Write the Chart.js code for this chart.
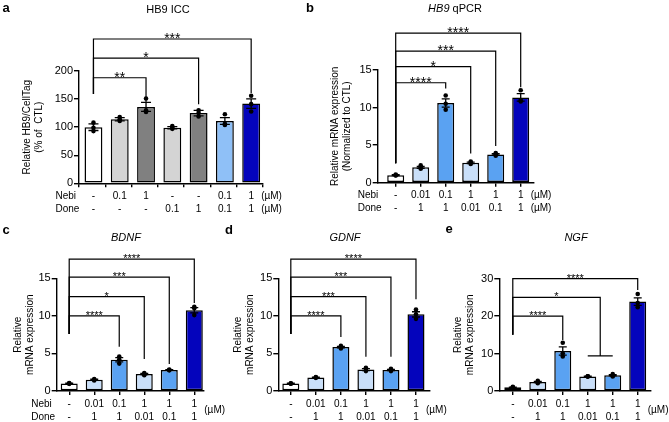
<!DOCTYPE html>
<html>
<head>
<meta charset="utf-8">
<script src="https://cdn.jsdelivr.net/npm/chart.js@4.4.1/dist/chart.umd.min.js"></script>
<style>
  body { margin: 0; background: #fff; }
  #figure { position: relative; width: 669px; height: 422px; overflow: hidden; background: #fff; }
  #figure canvas { position: absolute; }
</style>
</head>
<body>
<div id="figure">
  <canvas id="chart-a"></canvas>
  <canvas id="chart-b"></canvas>
  <canvas id="chart-c"></canvas>
  <canvas id="chart-d"></canvas>
  <canvas id="chart-e"></canvas>
</div>
<script>
// --- Data ---

// a: HB9 ICC
const aNebi = ['-', '0.1', '1', '-', '-', '0.1', '1'];
const aDone = ['-', '-', '-', '0.1', '1', '0.1', '1'];
const aMeans = [100, 114, 136, 99, 125, 111, 142];
const aSem = [6, 3, 8, 2, 5, 6, 8.5];
const aPoints = [[108, 99, 93], [118, 114, 111], [151, 130, 127], [102, 99, 97], [130, 125, 119], [123, 106, 104], [156, 141, 128]];
const aYTicks = [0, 50, 100, 150, 200];
const aBrackets = [
    { from: 0, to: 2, top: 188, end: 143, text: '**' },
    { from: 0, to: 4, top: 223, end: 141, text: '*' },
    { from: 0, to: 6, top: 257, end: 161, text: '***' },
];

// b: HB9 qPCR
const bNebi = ['-', '0.01', '0.1', '1', '1', '1'];
const bDone = ['-', '1', '1', '0.01', '0.1', '1'];
const bMeans = [1.0, 2.05, 10.6, 2.65, 3.75, 11.35];
const bSem = [0.06, 0.13, 0.55, 0.1, 0.1, 0.5];
const bPoints = [[1.1, 1.0, 0.95], [2.3, 2.0, 1.85], [11.6, 10.5, 9.7], [2.8, 2.7, 2.5], [3.95, 3.75, 3.6], [12.3, 11.0, 10.8]];
const bYTicks = [0, 5, 10, 15];
const bBrackets = [
    { from: 0, to: 2, top: 13.3, end: 12.55, text: '****' },
    { from: 0, to: 3, top: 15.45, end: 3.9, text: '*' },
    { from: 0, to: 4, top: 17.5, end: 4.9, text: '***' },
    { from: 0, to: 5, top: 19.9, end: 12.7, text: '****' },
];

// c: BDNF
const cMeans = [1.0, 1.5, 4.15, 2.25, 2.8, 10.75];
const cSem = [0.04, 0.07, 0.28, 0.08, 0.04, 0.35];
const cPoints = [[1.05, 1.0, 0.95], [1.6, 1.5, 1.4], [4.6, 4.2, 3.65], [2.4, 2.25, 2.1], [2.85, 2.8, 2.75], [11.2, 11.0, 10.1]];
const cBrackets = [
    { from: 0, to: 2, top: 10.0, end: 5.9, text: '****' },
    { from: 0, to: 3, top: 12.55, end: 4.25, text: '*' },
    { from: 0, to: 4, top: 15.15, end: 3.6, text: '***' },
    { from: 0, to: 5, top: 17.55, end: 11.7, text: '****' },
];

// d: GDNF
const dMeans = [1.0, 1.8, 5.85, 2.85, 2.8, 10.2];
const dSem = [0.03, 0.05, 0.1, 0.13, 0.09, 0.35];
const dPoints = [[1.03, 1.0, 0.97], [1.85, 1.8, 1.75], [6.0, 5.85, 5.65], [3.1, 2.8, 2.65], [2.95, 2.8, 2.65], [10.85, 10.2, 9.6]];
const dBrackets = [
    { from: 0, to: 2, top: 10.0, end: 7.2, text: '****' },
    { from: 0, to: 3, top: 12.55, end: 4.55, text: '***' },
    { from: 0, to: 4, top: 15.15, end: 4.55, text: '***' },
    { from: 0, to: 5, top: 17.55, end: 12.2, text: '****' },
];

// e: NGF
const eMeans = [1.0, 2.4, 10.7, 3.9, 4.2, 23.9];
const eSem = [0.06, 0.18, 1.1, 0.04, 0.18, 1.0];
const ePoints = [[1.1, 1.0, 0.9], [2.7, 2.4, 2.1], [12.9, 10.1, 9.2], [3.95, 3.9, 3.85], [4.5, 4.1, 3.9], [25.9, 23.5, 22.4]];
const eYTicks = [0, 10, 20, 30];
const eBrackets = [
    { from: 0, to: 2, top: 20.0, end: 13.6, text: '****' },
    { from: 0, to: 3.5, top: 25.0, end: 9.4, text: '*', span: [3, 4] },
    { from: 0, to: 5, top: 30.0, end: 27.0, text: '****' },
];

// shared by c, d, e
const cdeNebi = ['-', '0.01', '0.1', '1', '1', '1'];
const cdeDone = ['-', '1', '1', '0.01', '0.1', '1'];
const cdeYTicks = [0, 5, 10, 15];

// --- Colours ---
const WHITE = '#ffffff';
const LIGHT_GRAY = '#d4d4d4';
const DARK_GRAY = '#808080';
const SKY = '#8fc0f7';
const PALE_BLUE = '#c9dff9';
const MID_BLUE = '#5aa2f2';
const NAVY = '#0404bc';

const aColors = [WHITE, LIGHT_GRAY, DARK_GRAY, LIGHT_GRAY, DARK_GRAY, SKY, NAVY];
const qColors = [WHITE, PALE_BLUE, MID_BLUE, PALE_BLUE, MID_BLUE, NAVY];

const FONT = "'Liberation Sans', Arial, Helvetica, sans-serif";
Chart.defaults.font.family = FONT;
Chart.defaults.color = '#000';

// --- Panel layout (page pixels) ---
const panels = [
    {
        id: 'chart-a', letter: 'a', letterPos: [6, 8],
        title: [{ text: 'HB9 ICC' }], titlePos: [168, 9.5],
        box: { x: 0, y: 0, w: 300, h: 216 },
        area: { left: 79, right: 263, top: 71, bottom: 183.3 },
        xRange: [-0.55, 6.45], yTicks: aYTicks,
        yTitle: ['Relative HB9/CellTag', '(% of  CTL)'], yTitlePad: 21,
        means: aMeans, sem: aSem, points: aPoints, colors: aColors, brackets: aBrackets,
        leftEnd: 159, nebi: aNebi, done: aDone, rowNames: true, unitBoth: true,
        cap: 5, starSize: 14,
    },
    {
        id: 'chart-b', letter: 'b', letterPos: [310, 8],
        title: [{ text: 'HB9', italic: true }, { text: ' qPCR' }], titlePos: [455, 9],
        box: { x: 300, y: 0, w: 369, h: 216 },
        area: { left: 377.7, right: 533.7, top: 70, bottom: 182.7 },
        xRange: [-0.72, 5.52], yTicks: bYTicks,
        yTitle: ['Relative mRNA expression', '(Normalized to CTL)'], yTitlePad: 29,
        means: bMeans, sem: bSem, points: bPoints, colors: qColors, brackets: bBrackets,
        leftEnd: 2.6, nebi: bNebi, done: bDone, rowNames: true, unitBoth: true,
        cap: 4, starSize: 14,
    },
    {
        id: 'chart-c', letter: 'c', letterPos: [6, 230],
        title: [{ text: 'BDNF', italic: true }], titlePos: [126, 238],
        box: { x: 0, y: 210, w: 240, h: 212 },
        area: { left: 56.7, right: 203.3, top: 278.3, bottom: 391 },
        xRange: [-0.5, 5.36], yTicks: cdeYTicks,
        yTitle: ['Relative', 'mRNA expression'], yTitlePad: 12,
        means: cMeans, sem: cSem, points: cPoints, colors: qColors, brackets: cBrackets,
        leftEnd: 7.6, nebi: cdeNebi, done: cdeDone, rowNames: true, unitBoth: false,
        cap: 4, starSize: 11,
    },
    {
        id: 'chart-d', letter: 'd', letterPos: [229, 230],
        title: [{ text: 'GDNF', italic: true }], titlePos: [345, 238],
        box: { x: 220, y: 210, w: 240, h: 212 },
        area: { left: 278.3, right: 430, top: 278.3, bottom: 391 },
        xRange: [-0.5, 5.56], yTicks: cdeYTicks,
        yTitle: ['Relative', 'mRNA expression'], yTitlePad: 12,
        means: dMeans, sem: dSem, points: dPoints, colors: qColors, brackets: dBrackets,
        leftEnd: 7.6, nebi: cdeNebi, done: cdeDone, rowNames: false, unitBoth: false,
        cap: 4, starSize: 11,
    },
    {
        id: 'chart-e', letter: 'e', letterPos: [449, 229],
        title: [{ text: 'NGF', italic: true }], titlePos: [576, 238],
        box: { x: 440, y: 210, w: 229, h: 212 },
        area: { left: 499.3, right: 650.7, top: 278.7, bottom: 391 },
        xRange: [-0.54, 5.52], yTicks: eYTicks,
        yTitle: ['Relative', 'mRNA expression'], yTitlePad: 12,
        means: eMeans, sem: eSem, points: ePoints, colors: qColors, brackets: eBrackets,
        leftEnd: 15.0, nebi: cdeNebi, done: cdeDone, rowNames: false, unitBoth: false,
        cap: 4, starSize: 11,
    },
];

// --- Overlay: error bars, brackets, condition table, titles ---
function overlayPlugin(p) {
    return {
        id: 'overlay',
        afterDatasetDraw(chart, args) {
            if (args.index !== 0) return; // draw SEM after the bars, before the dots
            const { ctx, scales: { x, y } } = chart;
            ctx.save();
            ctx.strokeStyle = '#000';
            ctx.lineWidth = 1.3;
            p.means.forEach((m, i) => {
                const px = x.getPixelForValue(i);
                const hi = y.getPixelForValue(m + p.sem[i]);
                const lo = y.getPixelForValue(m - p.sem[i]);
                ctx.beginPath();
                ctx.moveTo(px, hi); ctx.lineTo(px, lo);
                ctx.moveTo(px - p.cap, hi); ctx.lineTo(px + p.cap, hi);
                ctx.moveTo(px - p.cap, lo); ctx.lineTo(px + p.cap, lo);
                ctx.stroke();
            });
            ctx.restore();
        },
        afterDraw(chart) {
            const { ctx, scales: { x, y } } = chart;
            const ox = p.box.x, oy = p.box.y;
            ctx.save();
            ctx.strokeStyle = '#000';
            ctx.fillStyle = '#000';
            ctx.lineWidth = 1.2;

            // significance brackets
            p.brackets.forEach(b => {
                const x1 = x.getPixelForValue(b.from), x2 = x.getPixelForValue(b.to);
                const yt = y.getPixelForValue(b.top);
                ctx.beginPath();
                ctx.moveTo(x1, y.getPixelForValue(p.leftEnd));
                ctx.lineTo(x1, yt);
                ctx.lineTo(x2, yt);
                ctx.lineTo(x2, y.getPixelForValue(b.end));
                if (b.span) {
                    const ys = y.getPixelForValue(b.end);
                    ctx.moveTo(x.getPixelForValue(b.span[0]), ys);
                    ctx.lineTo(x.getPixelForValue(b.span[1]), ys);
                }
                ctx.stroke();
                ctx.font = `${p.starSize}px ${FONT}`;
                ctx.textAlign = 'center';
                ctx.textBaseline = 'alphabetic';
                ctx.fillText(b.text, (x1 + x2) / 2, yt + p.starSize * 0.28);
            });

            // condition table under the x axis
            const base = y.getPixelForValue(0);
            const row1 = base + 13, row2 = base + 26;
            ctx.font = `10px ${FONT}`;
            ctx.textBaseline = 'middle';
            ctx.textAlign = 'center';
            p.nebi.forEach((t, i) => {
                const px = x.getPixelForValue(i);
                ctx.fillText(t, px, row1);
                ctx.fillText(p.done[i], px, row2);
            });
            const last = x.getPixelForValue(p.means.length - 1);
            ctx.textAlign = 'left';
            if (p.unitBoth) {
                ctx.fillText('(\u00b5M)', last + 10, row1);
                ctx.fillText('(\u00b5M)', last + 10, row2);
            } else {
                ctx.fillText('(\u00b5M)', last + 10, (row1 + row2) / 2);
            }
            if (p.rowNames) {
                const first = x.getPixelForValue(0);
                ctx.fillText('Nebi', first - 38, row1);
                ctx.fillText('Done', first - 38, row2);
            }

            // panel title (gene names in italics)
            const fonts = p.title.map(s => `${s.italic ? 'italic ' : ''}11px ${FONT}`);
            const widths = p.title.map((s, i) => { ctx.font = fonts[i]; return ctx.measureText(s.text).width; });
            let tx = p.titlePos[0] - ox - widths.reduce((a, w) => a + w, 0) / 2;
            p.title.forEach((s, i) => {
                ctx.font = fonts[i];
                ctx.fillText(s.text, tx, p.titlePos[1] - oy);
                tx += widths[i];
            });

            // panel letter
            ctx.font = `bold 13px ${FONT}`;
            ctx.textAlign = 'center';
            ctx.fillText(p.letter, p.letterPos[0] - ox, p.letterPos[1] - oy);
            ctx.restore();
        },
    };
}

function buildPanel(p) {
    const canvas = document.getElementById(p.id);
    canvas.width = p.box.w;
    canvas.height = p.box.h;
    canvas.style.left = p.box.x + 'px';
    canvas.style.top = p.box.y + 'px';

    const yWidth = p.area.left - p.box.x;
    const yMax = p.yTicks[p.yTicks.length - 1];

    new Chart(canvas, {
        type: 'bar',
        data: {
            datasets: [{
                type: 'bar',
                order: 2,
                data: p.means.map((m, i) => ({ x: i, y: m })),
                backgroundColor: p.colors,
                borderColor: '#000',
                borderWidth: 1.5,
                borderSkipped: false,
                barPercentage: 0.68,
                categoryPercentage: 1,
            }, {
                type: 'scatter',
                order: 1,
                data: p.points.flatMap((vals, i) => vals.map(v => ({ x: i, y: v }))),
                pointRadius: 2.3,
                pointBackgroundColor: '#000',
                pointBorderWidth: 0,
            }]
        },
        options: {
            responsive: false,
            animation: false,
            devicePixelRatio: 1,
            layout: {
                padding: {
                    left: 0,
                    top: p.area.top - p.box.y,
                    right: p.box.x + p.box.w - p.area.right,
                    bottom: p.box.y + p.box.h - p.area.bottom,
                }
            },
            plugins: { legend: { display: false }, tooltip: { enabled: false } },
            scales: {
                x: {
                    type: 'linear',
                    offset: false,
                    min: p.xRange[0], max: p.xRange[1],
                    ticks: { display: false, stepSize: 1, includeBounds: false },
                    grid: { offset: false, drawOnChartArea: false, drawTicks: true, tickLength: 4, color: '#000', lineWidth: 1.4 },
                    border: { display: true, color: '#000', width: 1.4 },
                    afterFit: s => { s.height = 0; },
                },
                y: {
                    type: 'linear',
                    min: 0, max: yMax,
                    afterBuildTicks: s => { s.ticks = p.yTicks.map(v => ({ value: v })); },
                    ticks: { font: { size: 11 }, color: '#000', padding: 1 },
                    grid: { drawOnChartArea: false, drawTicks: true, tickLength: 5, color: '#000', lineWidth: 1.4 },
                    border: { display: true, color: '#000', width: 1.4 },
                    title: {
                        display: true, text: p.yTitle, color: '#000',
                        font: { size: 10 }, padding: { top: p.yTitlePad, bottom: 0 },
                    },
                    afterFit: s => { s.width = yWidth; },
                },
            },
        },
        plugins: [overlayPlugin(p)],
    });
}

panels.forEach(buildPanel);
</script>
</body>
</html>
